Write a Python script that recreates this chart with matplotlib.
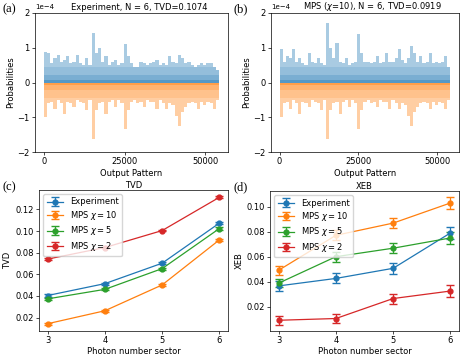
import numpy as np
import matplotlib
matplotlib.use("Agg")
import matplotlib.pyplot as plt

# figure looks like a scaled-down default matplotlib plot, so shrink everything
plt.rcParams['font.size'] = 6
plt.rcParams['xtick.major.size'] = 2.0
plt.rcParams['ytick.major.size'] = 2.0
plt.rcParams['xtick.major.pad'] = 1.5
plt.rcParams['ytick.major.pad'] = 1.8
plt.rcParams['xtick.major.width'] = 0.5
plt.rcParams['ytick.major.width'] = 0.5
plt.rcParams['axes.linewidth'] = 0.5
plt.rcParams['axes.labelpad'] = 2.0
plt.rcParams['legend.edgecolor'] = '0.8'

# --- top panels: peak probability per block of 1000 output patterns (units of 1e-4)
n_patterns = 54264
exp_peak = [0.87, 0.85, 0.55, 0.70, 0.80, 0.60, 0.65, 0.75, 0.55, 0.60,
            0.78, 0.55, 0.50, 0.70, 0.50, 1.42, 0.85, 1.00, 0.60, 0.75,
            0.50, 0.60, 0.65, 0.50, 0.55, 1.12, 0.75, 0.55, 0.45, 0.45,
            0.60, 0.55, 0.50, 0.55, 0.60, 0.65, 0.50, 0.55, 0.50, 0.75,
            0.60, 0.55, 0.80, 0.70, 0.55, 0.60, 0.50, 0.45, 0.50, 0.55,
            0.50, 0.55, 0.55, 0.45, 0.35]
ideal_peak = [1.00, 0.60, 0.55, 0.75, 0.50, 0.60, 0.90, 0.55, 0.60, 0.70,
              0.50, 0.55, 0.60, 0.80, 0.50, 1.62, 0.80, 0.60, 0.55, 0.90,
              0.55, 0.50, 0.70, 0.50, 0.60, 1.35, 0.80, 0.55, 0.50, 0.60,
              0.55, 0.70, 0.50, 0.55, 0.55, 0.75, 0.50, 0.60, 0.75, 0.60,
              0.65, 0.95, 1.25, 0.85, 0.70, 0.60, 0.55, 0.60, 0.75, 0.55,
              0.65, 0.55, 0.60, 0.75, 0.50]
mps_peak = [0.97, 0.60, 0.75, 0.70, 0.97, 0.60, 0.70, 0.55, 0.50, 0.85,
            0.60, 0.55, 0.70, 0.55, 0.50, 1.72, 1.00, 0.70, 1.15, 0.60,
            0.55, 0.70, 0.50, 0.55, 0.60, 1.40, 0.85, 0.60, 0.60, 0.55,
            0.60, 0.75, 0.55, 0.60, 0.85, 0.60, 0.60, 0.70, 0.95, 0.65,
            0.55, 0.70, 1.05, 0.85, 0.60, 0.75, 0.55, 0.60, 0.85, 0.55,
            0.60, 0.55, 0.60, 0.75, 0.45]

# --- bottom panels
sectors = [3, 4, 5, 6]
labels = ['Experiment', r'MPS $\chi = 10$', r'MPS $\chi = 5$', r'MPS $\chi = 2$']
tvd = [[0.0404, 0.0514, 0.0703, 0.1074],
       [0.0143, 0.0263, 0.0502, 0.0919],
       [0.0373, 0.0461, 0.0653, 0.1024],
       [0.0741, 0.0848, 0.1005, 0.1313]]
tvd_err = [[0.0010, 0.0010, 0.0010, 0.0010],
           [0.0008, 0.0008, 0.0008, 0.0008],
           [0.0010, 0.0010, 0.0010, 0.0010],
           [0.0008, 0.0008, 0.0008, 0.0008]]
xeb = [[0.0366, 0.0426, 0.0507, 0.0790],
       [0.0491, 0.0771, 0.0869, 0.1030],
       [0.0388, 0.0600, 0.0668, 0.0750],
       [0.0091, 0.0105, 0.0265, 0.0325]]
xeb_err = [[0.0040, 0.0040, 0.0045, 0.0050],
           [0.0035, 0.0040, 0.0040, 0.0045],
           [0.0030, 0.0040, 0.0040, 0.0045],
           [0.0035, 0.0035, 0.0040, 0.0045]]
colors = ['C0', 'C1', 'C2', 'C3']

W, H = 461, 355
fig = plt.figure(figsize=(W / 100, H / 100), dpi=100)


def box(l, t, r, b):
    return [l / W, 1 - b / H, (r - l) / W, (b - t) / H]


def spikes(ax, peak, color, sign):
    peak = np.asarray(peak) * 1e-4
    edges = np.linspace(0, n_patterns, len(peak) + 1)
    # layered fills give the dense-near-zero look of many overlapping lines
    ax.stairs(sign * peak, edges, fill=True, color=color, alpha=0.38, lw=0)
    ax.stairs(sign * np.minimum(peak, 0.45e-4), edges, fill=True, color=color, alpha=0.15, lw=0)
    ax.stairs(sign * np.minimum(peak, 0.22e-4), edges, fill=True, color=color, alpha=0.22, lw=0)
    ax.stairs(sign * np.minimum(peak, 0.07e-4), edges, fill=True, color=color, alpha=0.4, lw=0)


top = [(box(35, 13, 228, 152), exp_peak, 'Experiment, N = 6, TVD=0.1074'),
       (box(271, 13, 459, 152), mps_peak, r'MPS ($\chi$=10), N = 6, TVD=0.0919')]
for pos, peak, title in top:
    ax = fig.add_axes(pos)
    spikes(ax, peak, 'C0', 1)
    spikes(ax, ideal_peak, 'C1', -1)
    ax.set_xlim(-0.05 * n_patterns, 1.05 * n_patterns)
    ax.set_ylim(-2e-4, 2e-4)
    ax.set_xticks([0, 25000, 50000])
    ax.set_yticks([-2e-4, -1e-4, 0, 1e-4, 2e-4])
    ax.ticklabel_format(axis='y', style='sci', scilimits=(0, 0))
    ax.yaxis.get_offset_text().set_fontsize(5)
    ax.set_title(title, fontsize=6, pad=2, x=0.54)
    ax.set_xlabel('Output Pattern')
    ax.set_ylabel('Probabilities')

bottom = [(box(39, 190, 228, 331), tvd, tvd_err, 'TVD'),
          (box(270, 191, 459, 331), xeb, xeb_err, 'XEB')]
for pos, vals, errs, name in bottom:
    ax = fig.add_axes(pos)
    for v, e, c, lab in zip(vals, errs, colors, labels):
        ax.errorbar(sectors, v, yerr=e, color=c, marker='o', ms=3.5, lw=0.9,
                    elinewidth=0.9, capsize=3, label=lab)
    ax.set_xticks(sectors)
    ax.set_title(name, fontsize=6, pad=1.5)
    ax.set_xlabel('Photon number sector', labelpad=1.5)
    ax.set_ylabel(name)
    ax.legend(loc='upper left', fontsize=6, handlelength=2, labelspacing=0.3,
              borderpad=0.4)

fig.axes[3].set_yticks([0.02, 0.04, 0.06, 0.08, 0.10])

for x, y, s in [(2, 3, '(a)'), (233, 3, '(b)'), (2, 181, '(c)'), (233, 181, '(d)')]:
    fig.text(x / W, 1 - y / H, s, family='Liberation Serif', fontsize=9, va='top')

fig.savefig('out.png', dpi=100)
